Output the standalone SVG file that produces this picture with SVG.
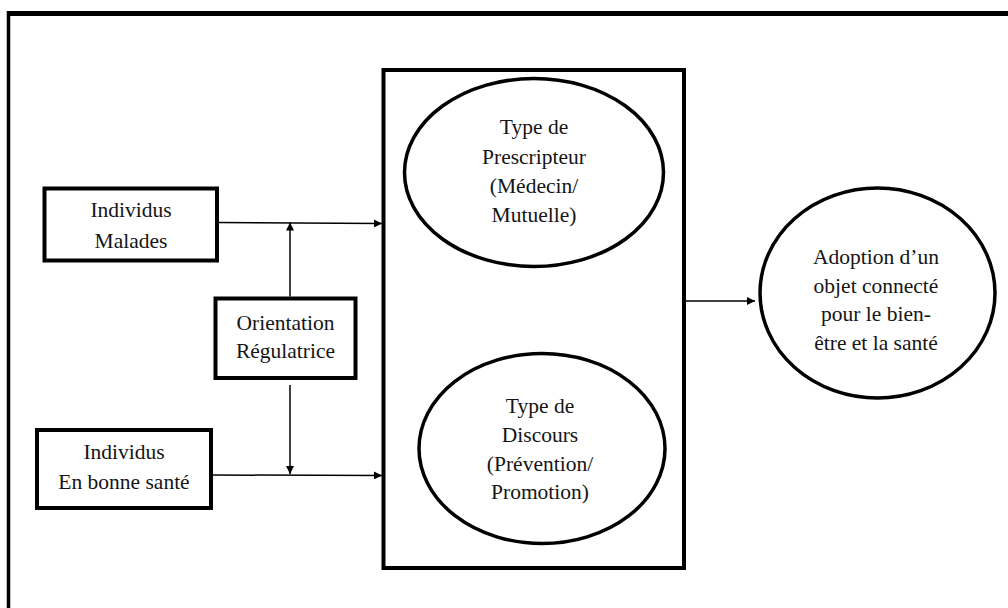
<svg xmlns="http://www.w3.org/2000/svg" width="1008" height="608" viewBox="0 0 1008 608">
<style>
.box{fill:#fff;stroke:#000;stroke-width:4}
.ell{fill:#fff;stroke:#000;stroke-width:3.5}
.conn{fill:none;stroke:#000;stroke-width:1.5}
.t{font-family:'Liberation Serif','Times New Roman',Tinos,'DejaVu Serif',serif;font-size:21.5px;fill:#151515;text-anchor:middle}
</style>
<defs>
<marker id="ah" viewBox="0 0 10 10" refX="10" refY="5" markerWidth="10" markerHeight="8" markerUnits="userSpaceOnUse" orient="auto">
<path d="M0,0 L10,5 L0,10 z" fill="#000"/>
</marker>
</defs>
<rect x="0" y="0" width="1008" height="608" fill="#fff"/>
<g id="frame">
<line x1="7" y1="13.5" x2="1008" y2="13.5" stroke="#000" stroke-width="5"/>
<line x1="8.5" y1="11" x2="8.5" y2="608" stroke="#000" stroke-width="3.5"/>
</g>
<g id="connectors">
<line class="conn" x1="217" y1="222.5" x2="382" y2="223.5" marker-end="url(#ah)"/>
<line class="conn" x1="213" y1="475" x2="382" y2="475.5" marker-end="url(#ah)"/>
<line class="conn" x1="290" y1="296.5" x2="290" y2="222.5" marker-end="url(#ah)"/>
<line class="conn" x1="290" y1="385" x2="290" y2="474" marker-end="url(#ah)"/>
<line class="conn" x1="684" y1="301" x2="755" y2="301" marker-end="url(#ah)"/>
</g>
<g id="main">
<rect class="box" x="383.5" y="70" width="300.5" height="498"/>
</g>
<g id="prescripteur" class="t" font-family="Liberation Serif, serif">
<ellipse class="ell" cx="534" cy="172.5" rx="129.5" ry="94"/>
<text x="534" y="134">Type de</text>
<text x="534" y="163.5">Prescripteur</text>
<text x="534" y="193">(Médecin/</text>
<text x="534" y="222">Mutuelle)</text>
</g>
<g id="discours" class="t" font-family="Liberation Serif, serif">
<ellipse class="ell" cx="542" cy="448.5" rx="123" ry="95"/>
<text x="540" y="413">Type de</text>
<text x="540" y="442">Discours</text>
<text x="540" y="470.5">(Prévention/</text>
<text x="540" y="499">Promotion)</text>
</g>
<g id="malades" class="t" font-family="Liberation Serif, serif">
<rect class="box" x="44.5" y="188.5" width="172.5" height="72"/>
<text x="131" y="216.5">Individus</text>
<text x="131" y="247.5">Malades</text>
</g>
<g id="orientation" class="t" font-family="Liberation Serif, serif">
<rect class="box" x="215.5" y="298.5" width="140" height="79.5"/>
<text x="285.5" y="330">Orientation</text>
<text x="285.5" y="357.5">Régulatrice</text>
</g>
<g id="bonne-sante" class="t" font-family="Liberation Serif, serif">
<rect class="box" x="37" y="430" width="174" height="78"/>
<text x="124" y="458.5">Individus</text>
<text x="124" y="488.5">En bonne santé</text>
</g>
<g id="adoption" class="t" font-family="Liberation Serif, serif">
<ellipse class="ell" cx="877.5" cy="293" rx="117.5" ry="105"/>
<text x="876" y="263.5">Adoption d’un</text>
<text x="876" y="293">objet connecté</text>
<text x="876" y="321">pour le bien-</text>
<text x="876" y="350">être et la santé</text>
</g>
</svg>
